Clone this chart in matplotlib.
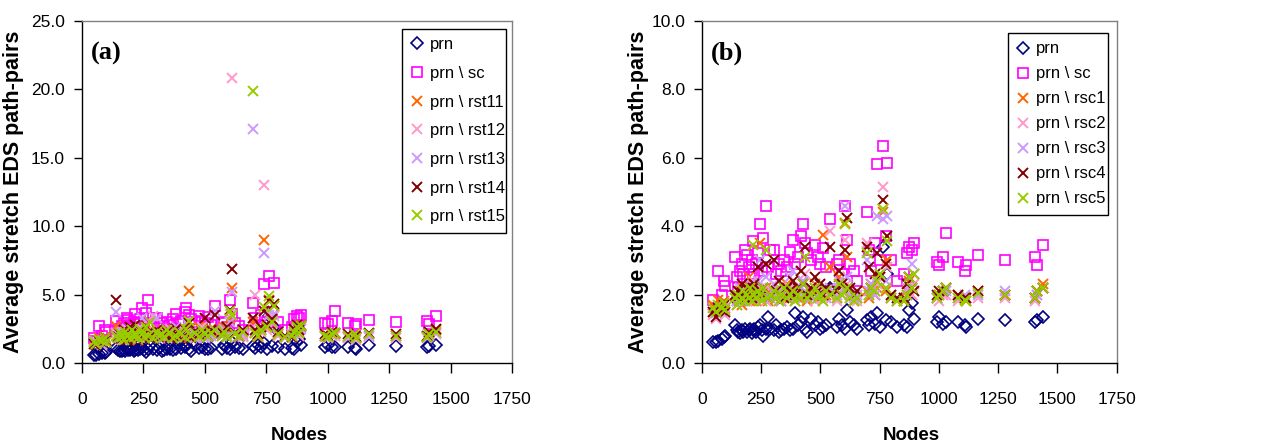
#!/usr/bin/env python3
"""Average stretch of EDS path-pairs vs. node count, two panels:
(a) prn with sc / rst11..rst15 removed, (b) prn with sc / rsc1..rsc5 removed."""
import matplotlib

matplotlib.use("Agg")
import matplotlib.pyplot as plt

# ---------------------------------------------------------------------------
# Data
# ---------------------------------------------------------------------------

nodes = [
    49, 60, 69, 84, 96, 100,
    139, 148, 155, 162, 170, 176, 183, 190, 198, 205,
    211, 215, 222, 230, 238, 246, 253, 260, 270, 278,
    290, 305, 315, 325, 335, 345, 358, 372, 384, 395,
    405, 419, 426, 435, 445, 460, 478, 490, 500, 512,
    525, 541,
    570, 580, 590, 604, 611, 625, 640, 655,
    696, 705, 715, 730, 741, 752, 763, 775, 783, 800, 825,
    855, 865, 875, 885, 893,
    990, 1000, 1016, 1029, 1082, 1110, 1115, 1167, 1279, 1406, 1412, 1441,
]

prn = [
    0.62, 0.60, 0.65, 0.70, 0.75, 0.78,
    1.10, 0.95, 0.90, 0.88, 0.95, 0.90, 1.00, 0.92, 0.95, 1.00,
    0.88, 0.95, 1.00, 0.92, 1.05, 1.10, 0.95, 0.78, 1.00, 1.35,
    1.00, 0.95, 1.10, 0.90, 0.95, 1.00, 1.05, 0.95, 1.00, 1.45,
    1.10, 1.20, 1.35, 1.00, 0.90, 1.30, 1.10, 1.20, 1.00, 1.05,
    1.10, 2.20,
    1.05, 1.30, 1.10, 1.00, 1.55, 1.20, 1.10, 1.00,
    1.25, 1.10, 1.35, 1.15, 1.45, 1.05, 3.40, 1.25, 2.60, 1.20, 1.05,
    1.10, 1.05, 1.55, 1.75, 1.30,
    1.20, 1.35, 1.15, 1.20, 1.20, 1.10, 1.05, 1.30, 1.25, 1.20, 1.25, 1.35,
]

sc = [
    1.85, 1.60, 2.70, 2.00, 2.40, 2.25,
    3.10, 2.50, 2.20, 2.70, 2.90, 2.60, 3.30, 3.15, 2.80, 2.50,
    3.00, 3.55, 2.60, 2.90, 3.20, 4.05, 2.70, 3.65, 4.60, 2.80,
    3.30, 3.30, 2.60, 2.90, 2.70, 3.00, 2.80, 3.25, 3.60, 2.90,
    3.10, 3.70, 4.05, 3.50, 3.20, 3.00, 3.45, 3.10, 2.90, 3.35,
    2.80, 4.20,
    2.90, 3.00, 2.60, 4.60, 3.60, 2.90, 2.70, 2.40,
    4.40, 3.30, 2.70, 3.50, 5.80, 3.00, 6.35, 3.70, 5.85, 3.00, 2.40,
    2.60, 3.20, 3.40, 3.30, 3.50,
    2.95, 2.85, 3.10, 3.80, 2.95, 2.70, 2.85, 3.15, 3.00, 3.10, 2.85, 3.45,
]

# panel (a)
rst11 = [
    1.7, 1.5, 1.8, 1.6, 1.9, 1.7,
    2.7, 2.0, 1.8, 2.2, 1.9, 2.4, 2.1, 1.8, 2.6, 2.0,
    1.9, 2.3, 2.1, 1.7, 2.5, 2.2, 1.9, 2.0, 2.8, 2.1,
    1.8, 2.2, 2.0, 1.9, 2.4, 2.1, 2.3, 1.9, 2.0, 2.2,
    1.8, 2.4, 2.1, 5.25, 1.9, 2.3, 2.6, 2.0, 2.2, 1.9,
    2.5, 2.1,
    2.2, 2.6, 1.9, 3.3, 5.5, 2.1, 1.9, 2.0,
    3.0, 2.2, 1.9, 2.4, 9.0, 2.6, 4.6, 3.2, 4.2, 2.1, 1.9,
    2.0, 2.4, 2.6, 2.3, 2.8,
    2.0, 1.9, 2.2, 2.1, 1.9, 2.1, 1.8, 2.1, 2.0, 1.9, 2.2, 2.4,
]
rst12 = [
    1.5, 1.4, 1.6, 1.3, 1.7, 1.5,
    2.2, 1.8, 2.0, 1.7, 2.3, 1.9, 2.0, 2.4, 1.8, 2.1,
    2.0, 1.9, 2.2, 1.8, 2.6, 2.0, 1.9, 2.3, 2.1, 1.8,
    3.4, 2.0, 2.2, 1.9, 2.1, 1.8, 2.5, 2.0, 1.9, 2.2,
    2.1, 2.3, 1.9, 2.4, 2.0, 1.8, 2.2, 2.6, 2.0, 1.9,
    2.1, 2.3,
    2.0, 2.4, 1.9, 3.6, 20.8, 2.2, 2.0, 1.9,
    2.6, 5.0, 2.0, 2.3, 13.0, 2.4, 3.8, 2.9, 3.4, 2.0, 1.8,
    1.9, 2.2, 2.5, 2.0, 2.6,
    1.9, 1.8, 2.0, 2.0, 1.8, 1.9, 1.7, 1.9, 1.8, 1.8, 2.0, 2.1,
]
rst13 = [
    1.6, 1.5, 1.7, 1.4, 1.6, 1.5,
    3.7, 2.0, 1.9, 2.3, 2.1, 1.8, 2.5, 2.2, 1.9, 2.0,
    2.3, 2.1, 1.8, 2.4, 2.0, 3.3, 1.9, 2.1, 2.2, 2.0,
    1.9, 3.3, 2.1, 2.0, 1.8, 2.3, 2.0, 2.2, 2.6, 1.9,
    2.1, 2.4, 3.0, 2.2, 1.9, 2.0, 2.3, 2.1, 1.8, 2.2,
    2.0, 3.8,
    2.1, 2.5, 2.0, 3.0, 5.2, 2.3, 1.9, 2.1,
    17.1, 2.3, 2.1, 2.5, 8.0, 2.7, 3.5, 3.0, 3.6, 2.2, 2.0,
    2.1, 2.3, 2.7, 2.4, 2.5,
    2.0, 1.9, 2.1, 2.2, 1.9, 2.0, 1.8, 2.0, 2.0, 1.9, 2.1, 2.2,
]
rst14 = [
    1.4, 1.3, 1.6, 1.5, 1.8, 1.6,
    4.6, 1.9, 2.1, 1.8, 2.4, 2.0, 1.7, 2.2, 2.6, 1.9,
    2.1, 2.8, 1.8, 2.3, 2.0, 2.1, 1.9, 2.7, 2.2, 1.8,
    2.0, 2.4, 1.9, 2.2, 2.1, 2.3, 1.8, 2.0, 2.5, 1.9,
    2.2, 2.0, 2.4, 2.9, 1.8, 2.3, 2.1, 2.2, 3.3, 2.0,
    2.4, 3.5,
    2.3, 2.1, 2.6, 3.9, 6.9, 2.2, 2.0, 2.4,
    3.3, 2.4, 2.1, 2.6, 3.8, 2.8, 4.5, 3.2, 4.3, 2.3, 2.0,
    1.9, 2.5, 2.8, 2.4, 2.7,
    2.1, 2.0, 2.3, 2.2, 2.1, 2.0, 1.9, 2.2, 2.1, 2.0, 2.3, 2.5,
]
rst15 = [
    1.5, 1.4, 1.7, 1.6, 1.8, 1.5,
    2.0, 1.8, 2.2, 1.9, 1.7, 2.3, 2.0, 2.1, 1.8, 2.4,
    1.9, 2.2, 2.0, 1.8, 2.5, 2.1, 1.9, 2.6, 2.0, 3.0,
    1.8, 2.3, 2.0, 2.1, 1.9, 2.4, 2.2, 1.8, 2.0, 2.3,
    2.1, 1.9, 2.5, 3.1, 2.0, 2.2, 1.9, 2.4, 2.1, 2.0,
    2.2, 2.4,
    2.0, 2.3, 1.9, 3.8, 3.5, 2.1, 2.0, 2.3,
    19.9, 2.2, 2.0, 2.4, 4.1, 2.6, 4.9, 3.0, 4.2, 2.1, 1.9,
    2.0, 2.3, 2.6, 2.2, 2.7,
    2.0, 1.9, 2.1, 2.2, 2.0, 2.1, 1.8, 2.1, 2.0, 1.9, 2.1, 2.3,
]

# panel (b)
rsc1 = [
    1.7, 1.6, 1.85, 1.7, 1.8, 1.6,
    2.0, 1.8, 1.9, 2.1, 1.7, 2.2, 1.9, 2.0, 2.5, 1.8,
    2.0, 2.3, 1.9, 1.8, 2.1, 3.5, 2.0, 1.9, 2.2, 1.8,
    2.1, 1.9, 2.0, 2.2, 1.8, 2.0, 2.3, 1.9, 2.1, 2.0,
    1.9, 2.2, 2.4, 2.0, 1.8, 2.1, 2.3, 2.0, 1.9, 3.75,
    2.0, 2.8,
    1.9, 2.5, 2.1, 4.1, 3.1, 2.0, 1.8, 1.9,
    2.1, 1.9, 2.3, 2.0, 2.2, 2.5, 4.4, 2.1, 3.0, 1.9, 1.8,
    1.8, 2.1, 2.4, 2.0, 2.6,
    1.9, 2.0, 2.1, 2.2, 2.0, 1.9, 1.8, 2.1, 2.0, 1.9, 2.1, 2.3,
]
rsc2 = [
    1.4, 1.3, 1.6, 1.5, 1.7, 1.4,
    1.9, 1.7, 2.1, 1.8, 2.0, 1.9, 2.2, 1.8, 2.0, 2.1,
    1.9, 2.4, 1.8, 2.0, 2.2, 1.9, 2.0, 2.1, 1.8, 2.0,
    2.2, 1.9, 2.0, 1.8, 2.1, 2.0, 1.9, 2.2, 2.0, 1.8,
    2.1, 1.9, 2.0, 2.6, 1.9, 2.0, 1.8, 2.2, 2.0, 1.9,
    2.1, 3.85,
    1.8, 2.2, 2.0, 3.6, 2.3, 1.9, 2.0, 1.8,
    3.5, 2.0, 2.2, 2.1, 2.3, 2.6, 5.15, 2.2, 2.8, 1.9, 1.8,
    1.9, 2.0, 2.2, 2.0, 2.3,
    1.9, 1.8, 2.0, 2.0, 1.8, 1.9, 1.9, 1.9, 1.9, 1.8, 2.0, 2.2,
]
rsc3 = [
    1.5, 1.45, 1.6, 1.5, 1.6, 1.5,
    2.0, 1.8, 1.9, 2.2, 1.8, 2.0, 2.1, 1.9, 2.0, 2.3,
    2.1, 2.0, 2.2, 1.9, 2.4, 3.0, 1.9, 2.2, 2.5, 2.0,
    1.9, 2.3, 2.0, 2.1, 1.8, 2.2, 2.0, 2.5, 2.7, 1.9,
    2.0, 2.2, 2.4, 2.1, 2.0, 1.9, 2.2, 2.0, 2.3, 2.0,
    1.9, 2.2,
    2.0, 2.4, 2.1, 4.6, 2.5, 2.0, 1.9, 2.0,
    3.0, 2.1, 2.3, 2.0, 4.3, 2.5, 4.2, 2.4, 4.3, 2.0, 1.9,
    1.9, 2.2, 2.5, 2.9, 2.6,
    1.9, 2.0, 2.1, 2.1, 1.9, 2.0, 1.9, 2.0, 2.1, 1.9, 2.0, 2.2,
]
rsc4 = [
    1.5, 1.35, 1.6, 1.55, 1.7, 1.5,
    2.0, 1.9, 2.1, 1.8, 2.3, 2.0, 1.9, 2.2, 2.0, 2.1,
    1.9, 2.2, 2.3, 2.0, 2.8, 2.1, 2.0, 2.2, 2.9, 1.9,
    2.0, 3.0, 2.1, 2.4, 2.0, 1.9, 2.2, 2.1, 2.4, 2.0,
    2.2, 2.7, 2.3, 3.4, 2.0, 2.2, 2.5, 2.1, 2.3, 2.0,
    2.2, 3.4,
    2.1, 2.7, 2.3, 3.3, 4.25, 2.2, 2.0, 2.1,
    3.4, 2.8, 2.2, 2.6, 3.2, 2.5, 4.75, 2.9, 3.7, 2.0, 1.9,
    1.9, 2.3, 2.5, 2.2, 2.1,
    2.0, 2.1, 2.1, 2.2, 2.0, 1.9, 1.9, 2.1, 2.0, 1.9, 2.1, 2.2,
]
rsc5 = [
    1.6, 1.5, 1.7, 1.6, 1.75, 1.55,
    1.9, 1.7, 2.0, 1.8, 1.9, 2.1, 1.8, 2.0, 1.9, 2.2,
    1.8, 3.45, 2.0, 1.9, 2.1, 2.0, 1.8, 2.2, 3.3, 1.9,
    2.0, 2.1, 1.9, 1.8, 2.0, 2.2, 1.9, 2.0, 2.1, 1.8,
    2.0, 1.9, 2.3, 3.1, 1.9, 2.0, 2.2, 1.9, 2.0, 1.8,
    2.1, 2.0,
    1.9, 2.3, 2.0, 4.05, 2.2, 1.9, 1.8, 1.9,
    3.2, 2.0, 2.2, 2.1, 2.4, 2.6, 4.5, 2.2, 3.55, 1.9, 1.8,
    1.8, 2.0, 2.5, 2.2, 2.6,
    1.9, 2.0, 2.1, 2.2, 1.9, 1.85, 1.8, 2.05, 2.0, 1.9, 2.1, 2.2,
]

# ---------------------------------------------------------------------------
# Styling
# ---------------------------------------------------------------------------

NAVY = "#000080"
MAGENTA = "#FF00FF"
X_COLORS = ["#FF6600", "#FF99CC", "#CC99FF", "#800000", "#99CC00"]

plt.rcParams.update({
    "font.family": ["Liberation Sans", "DejaVu Sans"],
    "font.size": 12,
    "xtick.labelsize": 12.5,
    "ytick.labelsize": 12.5,
})

# (tag, names, series, ymax, ystep, axes rect, legend bbox, label spacing,
#  ylabel x in axes coords)
PANELS = [
    ("(a)", ["rst11", "rst12", "rst13", "rst14", "rst15"],
     [rst11, rst12, rst13, rst14, rst15], 25.0, 5.0,
     [0.0647, 0.1879, 0.3407, 0.7658], (0.744, 0.380, 0.242, 0.596), 0.82,
     -0.133),
    ("(b)", ["rsc1", "rsc2", "rsc3", "rsc4", "rsc5"],
     [rsc1, rsc2, rsc3, rsc4, rsc5], 10.0, 2.0,
     [0.5556, 0.1879, 0.3286, 0.7658], (0.738, 0.432, 0.241, 0.532), 0.6,
     -0.128),
]


def draw_panel(fig, tag, names, series, ymax, ystep, rect, leg_box,
               leg_space, ylab_x):
    ax = fig.add_axes(rect)
    ax.plot(nodes, prn, linestyle="none", marker="D", markersize=5.8,
            markerfacecolor="none", markeredgecolor=NAVY,
            markeredgewidth=1.2, label="prn")
    ax.plot(nodes, sc, linestyle="none", marker="s", markersize=6.6,
            markerfacecolor="none", markeredgecolor=MAGENTA,
            markeredgewidth=1.2, label="prn \\ sc")
    for name, vals, col in zip(names, series, X_COLORS):
        ax.plot(nodes, vals, linestyle="none", marker="x", markersize=7.5,
                markeredgecolor=col, markeredgewidth=1.4,
                label="prn \\ " + name)

    ax.set_xlim(0, 1750)
    ax.set_ylim(0, ymax)
    ax.set_xticks(range(0, 1751, 250))
    yt = [i * ystep for i in range(6)]
    ax.set_yticks(yt)
    ax.set_yticklabels([f"{v:.1f}" for v in yt])

    for side in ("top", "right"):
        ax.spines[side].set_color("#808080")
        ax.spines[side].set_linewidth(1.0)
    for side in ("left", "bottom"):
        ax.spines[side].set_color("black")
        ax.spines[side].set_linewidth(1.0)
    ax.tick_params(axis="x", direction="out", length=7, width=1.0, pad=14)
    ax.tick_params(axis="y", direction="out", length=6, width=1.0, pad=6)

    ax.set_ylabel("Average stretch EDS path-pairs", fontsize=15.5,
                  fontweight="bold")
    ax.yaxis.set_label_coords(ylab_x, 0.5)
    ax.set_xlabel("Nodes", fontsize=13.5, fontweight="bold")
    ax.xaxis.set_label_coords(0.505, -0.186)

    ax.text(0.022, 0.905, tag, transform=ax.transAxes, fontsize=19,
            fontweight="bold", family="Liberation Serif", va="center")

    leg = ax.legend(loc="upper left", bbox_to_anchor=leg_box, mode="expand",
                    frameon=True, fancybox=False, framealpha=1.0,
                    edgecolor="black", fontsize=12, handlelength=0.8,
                    handletextpad=0.4, labelspacing=leg_space,
                    borderpad=0.5, borderaxespad=0.0)
    leg.get_frame().set_linewidth(1.0)
    return ax


fig = plt.figure(figsize=(12.63, 4.47), dpi=100)
for panel in PANELS:
    draw_panel(fig, *panel)

fig.savefig("out.png", dpi=100)
